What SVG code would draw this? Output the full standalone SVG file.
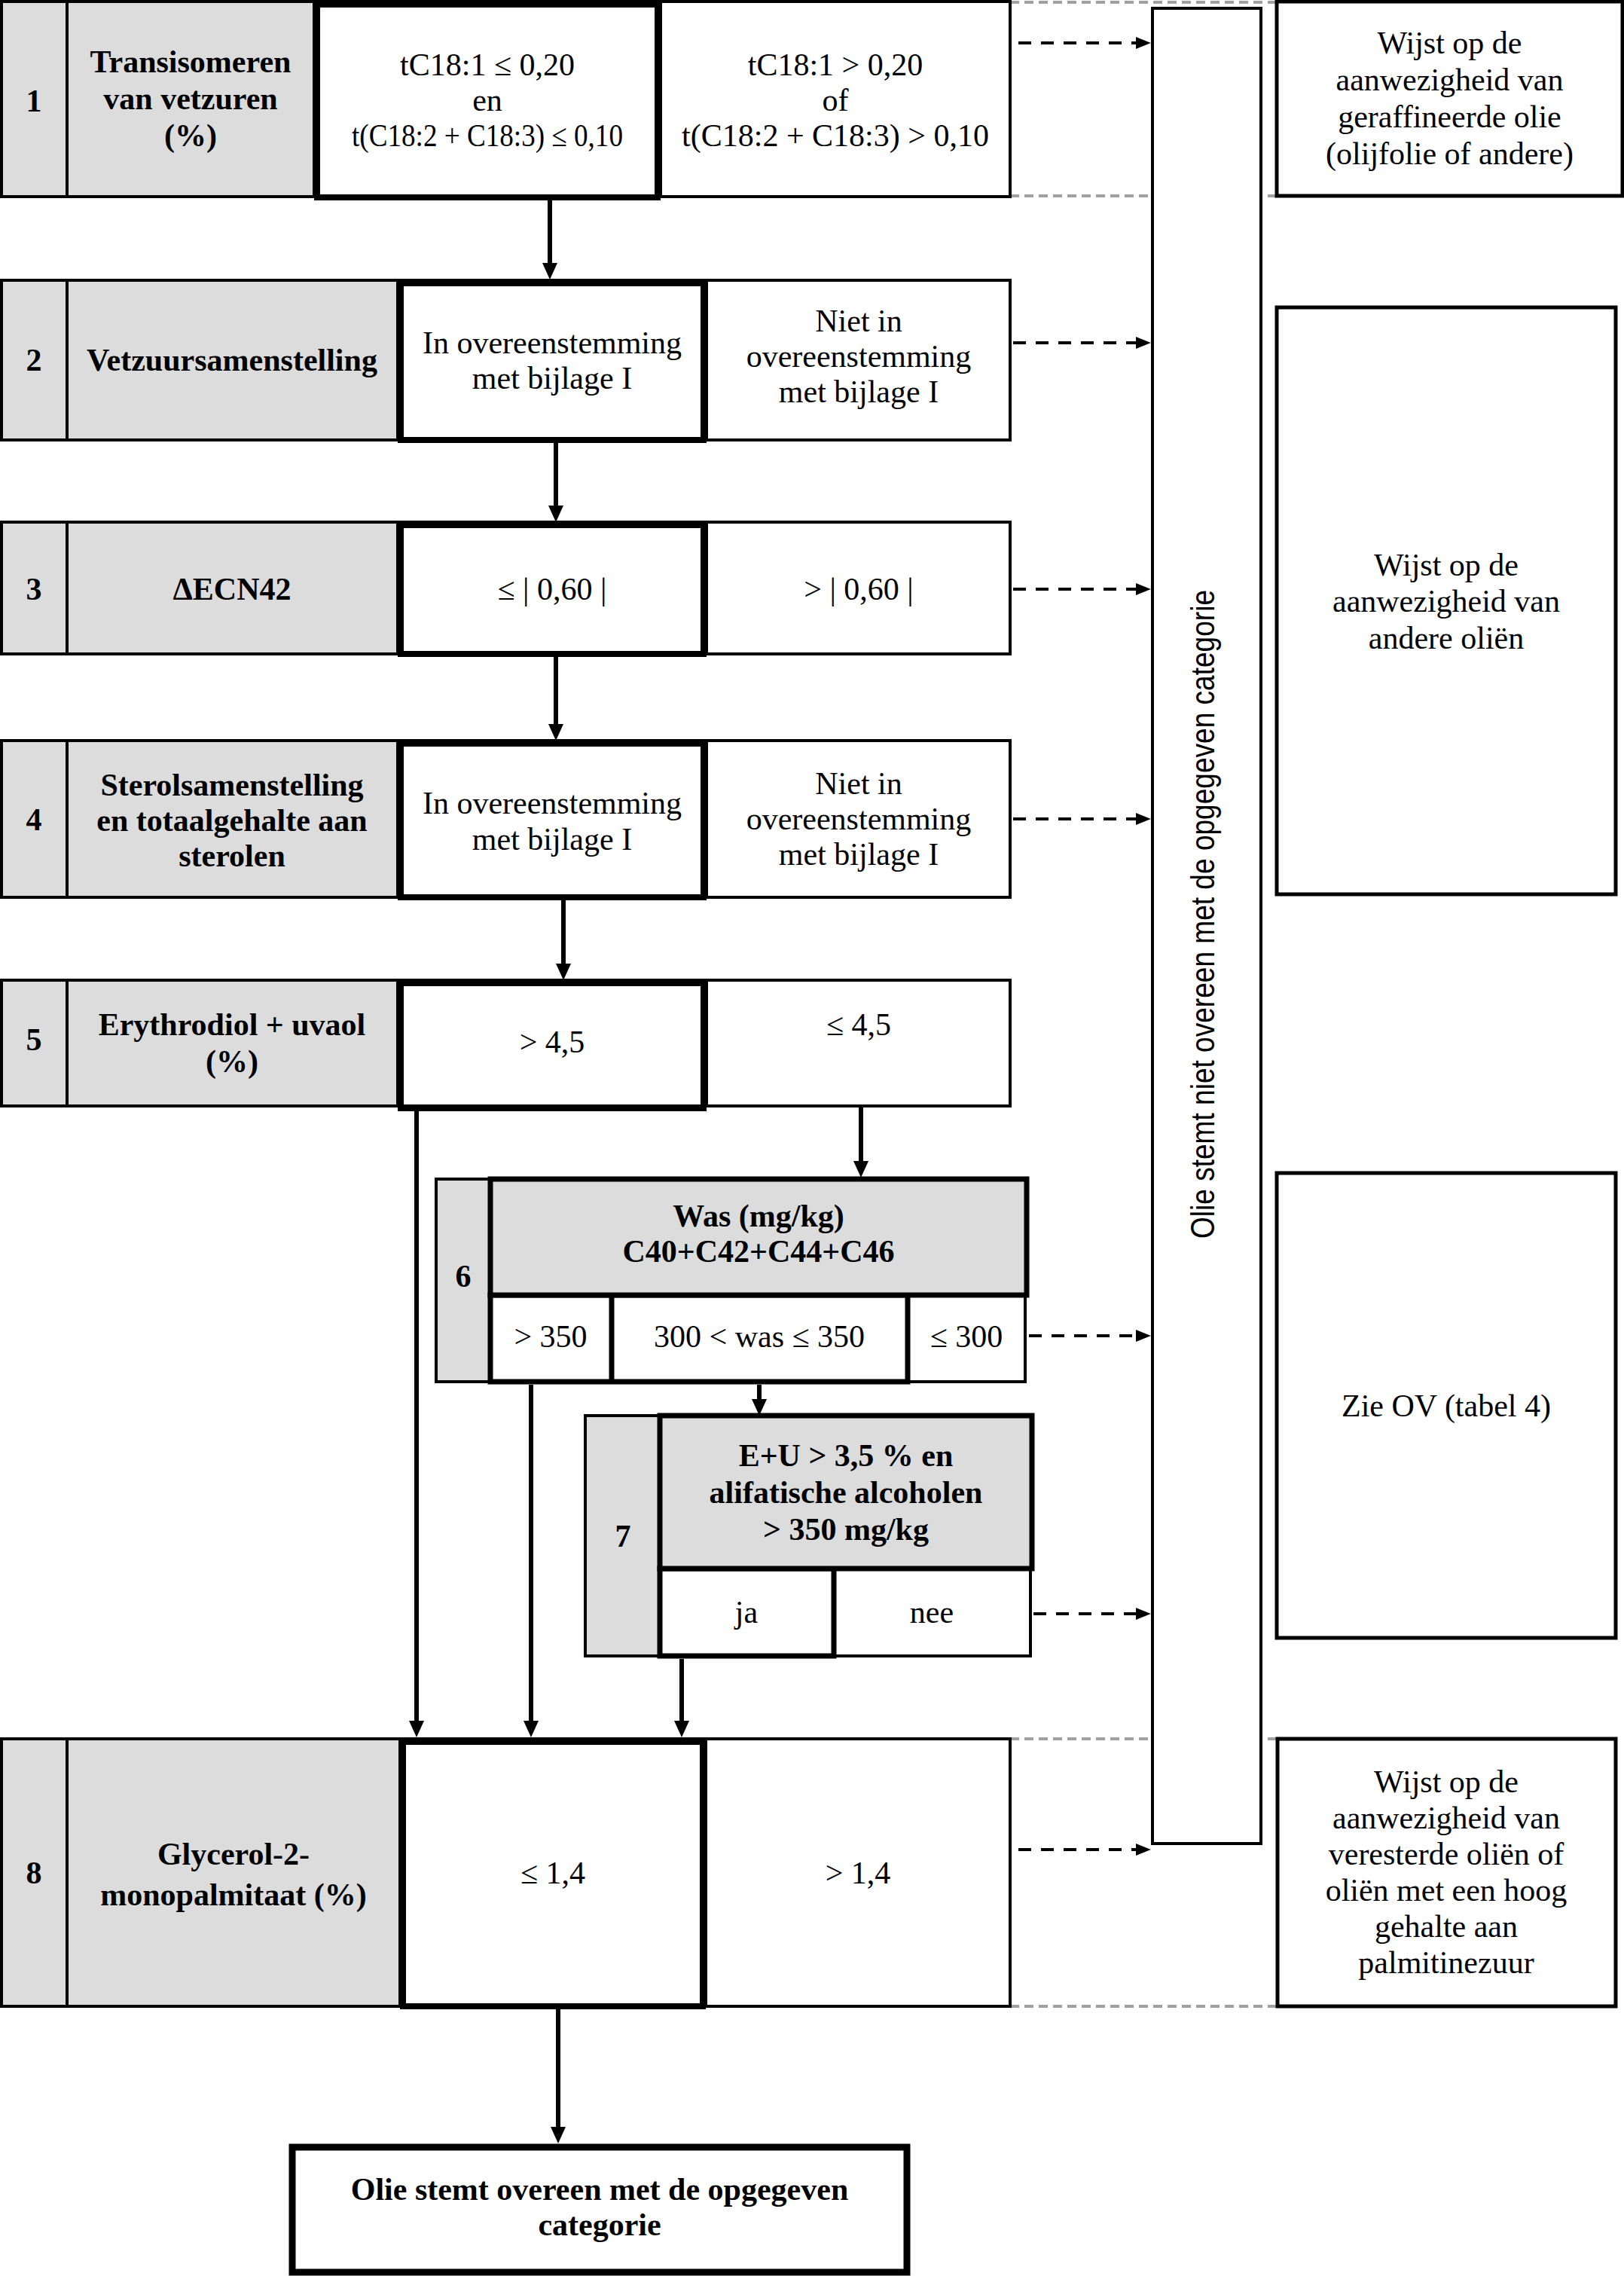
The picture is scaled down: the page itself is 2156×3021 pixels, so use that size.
<svg xmlns="http://www.w3.org/2000/svg" width="2156" height="3021" viewBox="0 0 2156 3021">
<defs>
<style>
.thin{fill:#fff;stroke:#000;stroke-width:4}
.gray{fill:#dcdcdc;stroke:#000;stroke-width:4}
.grayk{fill:#dcdcdc;stroke:#000;stroke-width:7}
.thick{fill:none;stroke:#000;stroke-width:8}
.side{fill:#fff;stroke:#000;stroke-width:5}
.t{font-family:"Liberation Serif","Times New Roman",serif;font-size:42px;text-anchor:middle;fill:#000}
.b{font-weight:bold}
.arrow{fill:none;stroke:#000;stroke-width:6;marker-end:url(#ah)}
.darrow{fill:none;stroke:#000;stroke-width:4;stroke-dasharray:17 13;marker-end:url(#ahd)}
.gline{fill:none;stroke:#a0a0a0;stroke-width:4;stroke-dasharray:12 7}
</style>
<marker id="ah" markerUnits="userSpaceOnUse" markerWidth="24" markerHeight="22" refX="4" refY="10" orient="auto"><path d="M0,0 L22,10 L0,20 z" fill="#000"/></marker>
<marker id="ahd" markerUnits="userSpaceOnUse" markerWidth="22" markerHeight="18" refX="2" refY="8" orient="auto"><path d="M0,0 L20,8 L0,16 z" fill="#000"/></marker>
</defs>
<rect width="2156" height="3021" fill="#fff"/>

<g id="guides">
<line class="gline" x1="1341" y1="3" x2="1695" y2="3"/>
<line class="gline" x1="1341" y1="260" x2="1695" y2="260"/>
<line class="gline" x1="1341" y1="2308" x2="1696" y2="2308"/>
<line class="gline" x1="1341" y1="2663" x2="1696" y2="2663"/>
</g>

<g id="niet-overeen">
<rect class="thin" x="1530" y="11" width="144" height="2436"/>
<text transform="translate(1612,1213.5) rotate(-90)" text-anchor="middle" font-family="'Liberation Sans',Arial,sans-serif" font-size="44" textLength="861" lengthAdjust="spacingAndGlyphs">Olie stemt niet overeen met de opgegeven categorie</text>
</g>

<g id="row1">
<rect class="gray" x="2" y="2" width="87" height="259"/>
<rect class="gray" x="89" y="2" width="328" height="259"/>
<rect class="thin" x="417" y="2" width="460" height="259"/>
<rect class="thin" x="877" y="2" width="464" height="259"/>
<rect class="thick" x="421" y="6" width="452" height="256"/>
<text class="t b" x="45" y="148">1</text>
<text class="t b"><tspan x="253" y="96">Transisomeren</tspan><tspan x="253" y="145">van vetzuren</tspan><tspan x="253" y="194">(%)</tspan></text>
<text class="t"><tspan x="647" y="100">tC18:1 ≤ 0,20</tspan><tspan x="647" y="147">en</tspan></text>
<text class="t" x="647" y="194" textLength="360" lengthAdjust="spacingAndGlyphs">t(C18:2 + C18:3) ≤ 0,10</text>
<text class="t"><tspan x="1109" y="100">tC18:1 &gt; 0,20</tspan><tspan x="1109" y="147">of</tspan><tspan x="1109" y="194">t(C18:2 + C18:3) &gt; 0,10</tspan></text>
</g>

<g id="row2">
<rect class="gray" x="2" y="372" width="87" height="212"/>
<rect class="gray" x="89" y="372" width="439" height="212"/>
<rect class="thin" x="528" y="372" width="410" height="212"/>
<rect class="thin" x="938" y="372" width="403" height="212"/>
<rect class="thick" x="532" y="376" width="402" height="208"/>
<text class="t b" x="45" y="492">2</text>
<text class="t b" x="308" y="492">Vetzuursamenstelling</text>
<text class="t"><tspan x="733" y="469">In overeenstemming</tspan><tspan x="733" y="516">met bijlage I</tspan></text>
<text class="t"><tspan x="1140" y="440">Niet in</tspan><tspan x="1140" y="487">overeenstemming</tspan><tspan x="1140" y="534">met bijlage I</tspan></text>
</g>

<g id="row3">
<rect class="gray" x="2" y="693" width="87" height="175"/>
<rect class="gray" x="89" y="693" width="439" height="175"/>
<rect class="thin" x="528" y="693" width="410" height="175"/>
<rect class="thin" x="938" y="693" width="403" height="175"/>
<rect class="thick" x="532" y="697" width="402" height="171"/>
<text class="t b" x="45" y="796">3</text>
<text class="t b" x="308" y="796">ΔECN42</text>
<text class="t" x="733" y="796">≤ | 0,60 |</text>
<text class="t" x="1140" y="796">&gt; | 0,60 |</text>
</g>

<g id="row4">
<rect class="gray" x="2" y="983" width="87" height="208"/>
<rect class="gray" x="89" y="983" width="439" height="208"/>
<rect class="thin" x="528" y="983" width="410" height="208"/>
<rect class="thin" x="938" y="983" width="403" height="208"/>
<rect class="thick" x="532" y="987" width="402" height="204"/>
<text class="t b" x="45" y="1102">4</text>
<text class="t b"><tspan x="308" y="1056">Sterolsamenstelling</tspan><tspan x="308" y="1103">en totaalgehalte aan</tspan><tspan x="308" y="1150">sterolen</tspan></text>
<text class="t"><tspan x="733" y="1080">In overeenstemming</tspan><tspan x="733" y="1128">met bijlage I</tspan></text>
<text class="t"><tspan x="1140" y="1054">Niet in</tspan><tspan x="1140" y="1101">overeenstemming</tspan><tspan x="1140" y="1148">met bijlage I</tspan></text>
</g>

<g id="row5">
<rect class="gray" x="2" y="1301" width="87" height="167"/>
<rect class="gray" x="89" y="1301" width="439" height="167"/>
<rect class="thin" x="528" y="1301" width="410" height="167"/>
<rect class="thin" x="938" y="1301" width="403" height="167"/>
<rect class="thick" x="532" y="1305" width="402" height="166"/>
<text class="t b" x="45" y="1394">5</text>
<text class="t b"><tspan x="308" y="1374">Erythrodiol + uvaol</tspan><tspan x="308" y="1423">(%)</tspan></text>
<text class="t" x="733" y="1397">&gt; 4,5</text>
<text class="t" x="1140" y="1374">≤ 4,5</text>
</g>

<g id="box6">
<rect class="gray" x="579" y="1565" width="72" height="269"/>
<rect class="thin" x="1205" y="1719" width="156" height="115"/>
<rect class="thin" x="651" y="1719" width="161" height="115"/>
<rect class="thin" x="812" y="1719" width="393" height="115"/>
<rect fill="none" stroke="#000" stroke-width="7" x="651" y="1719" width="554" height="115"/>
<line stroke="#000" stroke-width="7" x1="812" y1="1719" x2="812" y2="1834"/>
<rect class="grayk" x="651" y="1565" width="712" height="154"/>
<text class="t b" x="615" y="1708">6</text>
<text class="t b"><tspan x="1007" y="1628">Was (mg/kg)</tspan><tspan x="1007" y="1675">C40+C42+C44+C46</tspan></text>
<text class="t" x="731" y="1788">&gt; 350</text>
<text class="t" x="1008" y="1788">300 &lt; was ≤ 350</text>
<text class="t" x="1283" y="1788">≤ 300</text>
</g>

<g id="box7">
<rect class="gray" x="777" y="1879" width="99" height="319"/>
<rect class="thin" x="1107" y="2082" width="261" height="116"/>
<rect fill="#fff" stroke="#000" stroke-width="7" x="876" y="2082" width="231" height="116"/>
<rect class="grayk" x="876" y="1879" width="494" height="203"/>
<text class="t b" x="827" y="2053">7</text>
<text class="t b"><tspan x="1123" y="1946">E+U &gt; 3,5 % en</tspan><tspan x="1123" y="1995">alifatische alcoholen</tspan><tspan x="1123" y="2044">&gt; 350 mg/kg</tspan></text>
<text class="t" x="991" y="2154">ja</text>
<text class="t" x="1237" y="2154">nee</text>
</g>

<g id="row8">
<rect class="gray" x="2" y="2308" width="87" height="355"/>
<rect class="gray" x="89" y="2308" width="442" height="355"/>
<rect class="thin" x="531" y="2308" width="406" height="355"/>
<rect class="thin" x="937" y="2308" width="404" height="355"/>
<rect class="thick" x="535" y="2312" width="398" height="351"/>
<text class="t b" x="45" y="2500">8</text>
<text class="t b"><tspan x="310" y="2475">Glycerol-2-</tspan><tspan x="310" y="2529">monopalmitaat (%)</tspan></text>
<text class="t" x="734" y="2500">≤ 1,4</text>
<text class="t" x="1139" y="2500">&gt; 1,4</text>
</g>

<g id="result1">
<rect class="side" x="1695" y="2" width="459" height="258"/>
<text class="t"><tspan x="1924.5" y="71">Wijst op de</tspan><tspan x="1924.5" y="120">aanwezigheid van</tspan><tspan x="1924.5" y="169">geraffineerde olie</tspan><tspan x="1924.5" y="218">(olijfolie of andere)</tspan></text>
</g>

<g id="result2">
<rect class="side" x="1695" y="408" width="450" height="779"/>
<text class="t"><tspan x="1920" y="764">Wijst op de</tspan><tspan x="1920" y="812">aanwezigheid van</tspan><tspan x="1920" y="861">andere oliën</tspan></text>
</g>

<g id="result3">
<rect class="side" x="1695" y="1557" width="450" height="617"/>
<text class="t" x="1920" y="1880">Zie OV (tabel 4)</text>
</g>

<g id="result4">
<rect class="side" x="1696" y="2308" width="449" height="355"/>
<text class="t"><tspan x="1920" y="2379">Wijst op de</tspan><tspan x="1920" y="2427">aanwezigheid van</tspan><tspan x="1920" y="2475">veresterde oliën of</tspan><tspan x="1920" y="2523">oliën met een hoog</tspan><tspan x="1920" y="2571">gehalte aan</tspan><tspan x="1920" y="2619">palmitinezuur</tspan></text>
</g>

<g id="final">
<rect fill="#fff" stroke="#000" stroke-width="9" x="388" y="2850" width="816" height="166"/>
<text class="t b"><tspan x="796" y="2920">Olie stemt overeen met de opgegeven</tspan><tspan x="796" y="2967">categorie</tspan></text>
</g>

<g id="connectors">
<path class="arrow" d="M730,266 V353"/>
<path class="arrow" d="M738,588 V675"/>
<path class="arrow" d="M738,872 V965"/>
<path class="arrow" d="M748,1195 V1283"/>
<path class="arrow" d="M1143,1470 V1545"/>
<path class="arrow" d="M553,1475 V2288"/>
<path class="arrow" d="M705,1838 V2288"/>
<path class="arrow" d="M1008,1838 V1861"/>
<path class="arrow" d="M905,2202 V2288"/>
<path class="arrow" d="M741,2667 V2827"/>
<path class="darrow" d="M1352,57 H1510"/>
<path class="darrow" d="M1345,455 H1510"/>
<path class="darrow" d="M1345,782 H1510"/>
<path class="darrow" d="M1345,1087 H1510"/>
<path class="darrow" d="M1366,1773 H1510"/>
<path class="darrow" d="M1372,2142 H1510"/>
<path class="darrow" d="M1352,2455 H1510"/>
</g>
</svg>
